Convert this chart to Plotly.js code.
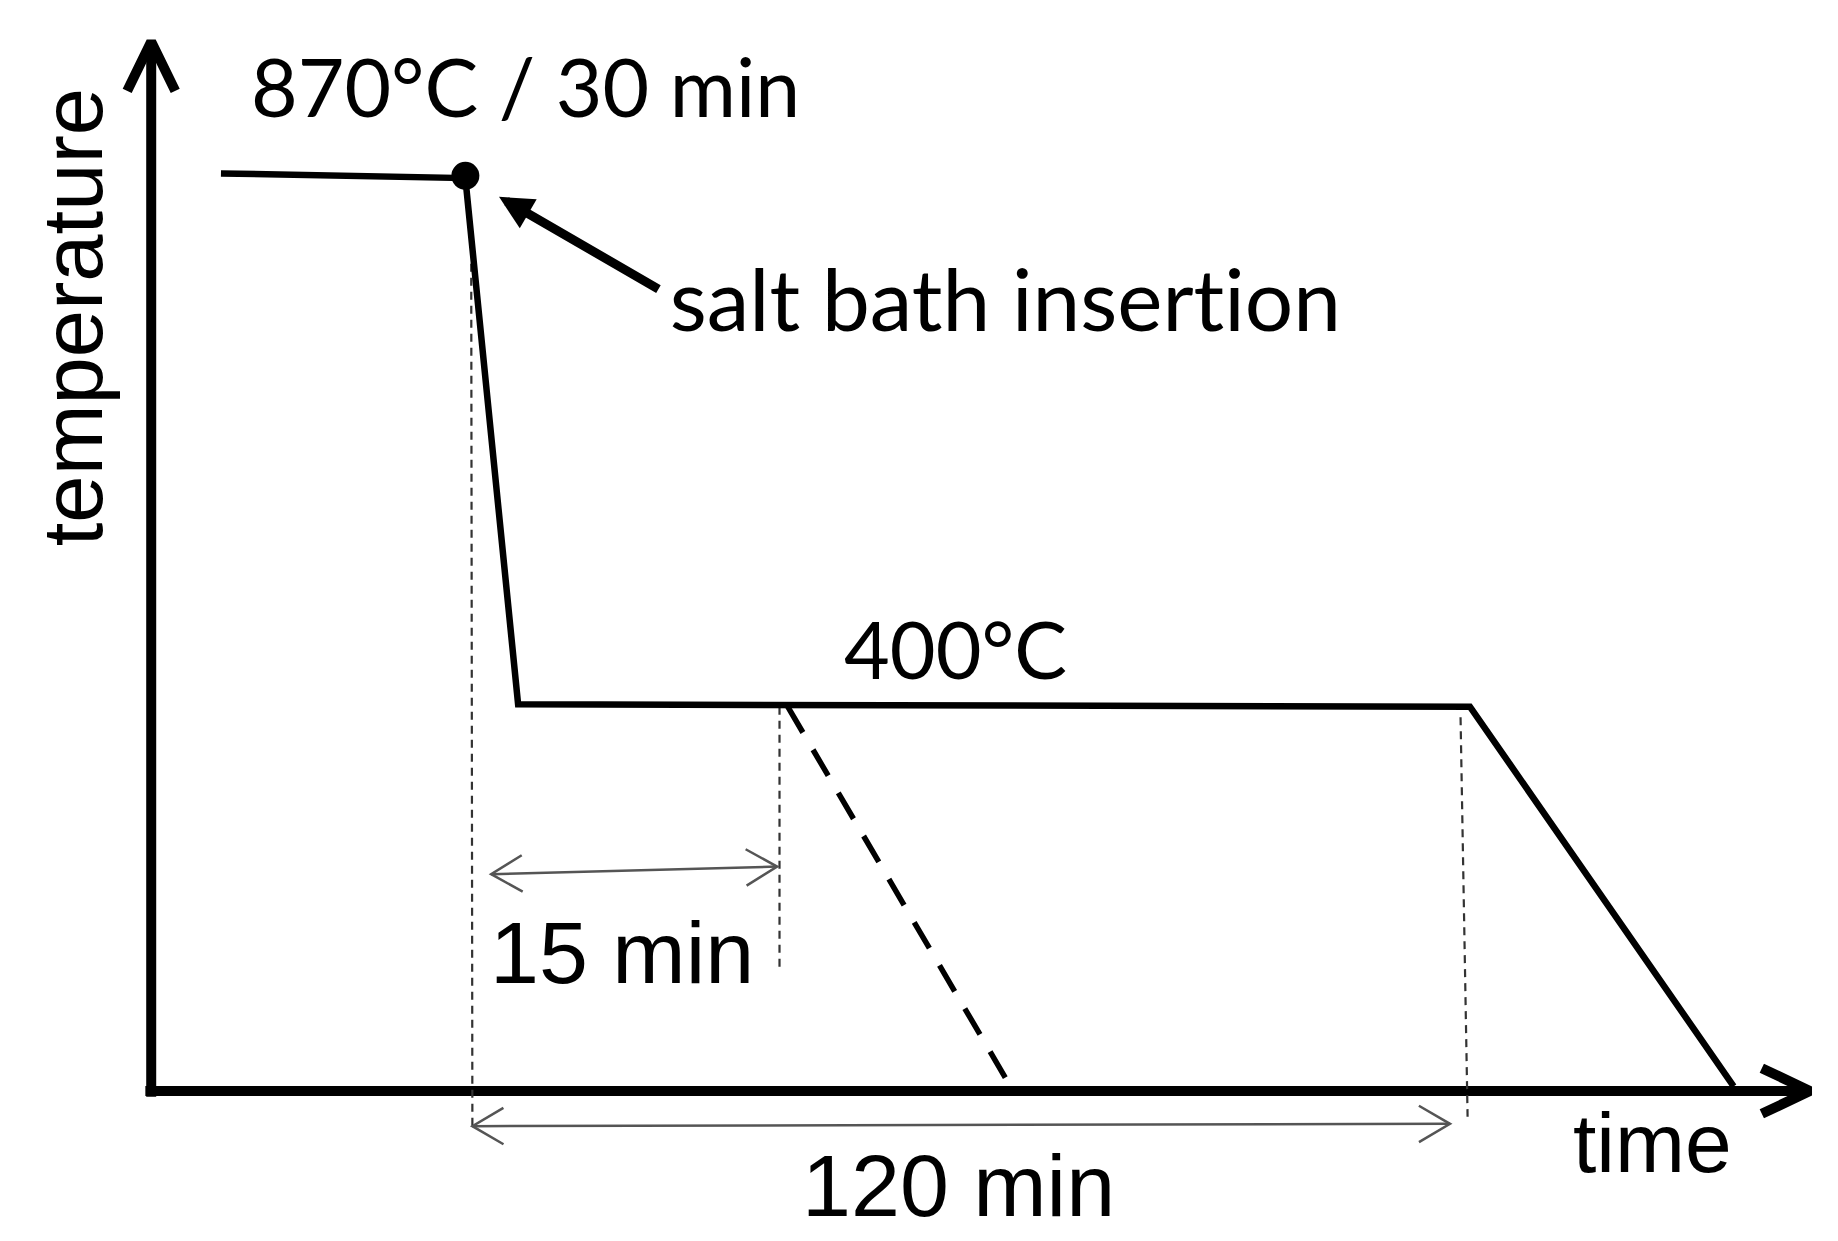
<!DOCTYPE html>
<html>
<head>
<meta charset="utf-8">
<script src="https://cdn.plot.ly/plotly-3.0.1.min.js"></script>
<style>
  html, body { margin: 0; padding: 0; background: #fff; }
  #chart { width: 1838px; height: 1241px; }
  #chart text { font-variant-ligatures: none; font-feature-settings: "liga" 0, "clig" 0; }
</style>
</head>
<body>
<div id="chart"></div>
<script>
// schematic units: time to the right of the temperature axis, temperature above the time axis
const profileTime = [59.5, 268, 313, 1125, 1350];
const profileTemp = [783, 779, 330, 328, 4];
const insertionTime = [268];
const insertionTemp = [781];
const shortHoldTime = [543, 733];
const shortHoldTemp = [328, 4];

// dotted guide lines
const guideTime = [[273, 274], [536, 536], [1117, 1123]];
const guideTemp = [[706, -33], [328, 106], [319, -22]];

// duration spans (start, end) and their labels
const spanLabels = ['15 min', '120 min'];
const spanStart = [[290, 185], [274, -30]];
const spanEnd = [[534, 191.5], [1108, -28]];
const spanLabelPos = [[402, 118], [689, -81]];

// axis ends
const timeAxisEnd = 1415;
const tempAxisEnd = 895.5;

const black = '#000';
const grey = '#555';

function chevron(tip, dir, len, half) {
  const n = Math.hypot(dir[0], dir[1]);
  const dx = dir[0] / n, dy = dir[1] / n;
  const px = -dy, py = dx;
  return {
    x: [tip[0] - dx * len + px * half, tip[0], tip[0] - dx * len - px * half],
    y: [tip[1] - dy * len + py * half, tip[1], tip[1] - dy * len - py * half]
  };
}

function lineTrace(x, y, color, width, dash) {
  return {
    x: x, y: y, type: 'scatter', mode: 'lines', hoverinfo: 'skip',
    line: { color: color, width: width, dash: dash || 'solid' }
  };
}

const traces = [];

// axes with arrow heads
traces.push(lineTrace([0, 0], [-5, tempAxisEnd - 2], black, 10));
traces.push(lineTrace([-5, timeAxisEnd - 2], [0, 0], black, 10));
let h = chevron([0, tempAxisEnd], [0, 1], 42, 20.5);
traces.push(lineTrace(h.x, h.y, black, 10));
h = chevron([timeAxisEnd, 0], [1, 0], 41, 19.5);
traces.push(lineTrace(h.x, h.y, black, 10));

// dotted guides
guideTime.forEach((gx, i) => {
  traces.push(lineTrace(gx, guideTemp[i], '#333', 2.2, '8px,6px'));
});

// span arrows
spanStart.forEach((s, i) => {
  const e = spanEnd[i];
  traces.push(lineTrace([s[0], e[0]], [s[1], e[1]], grey, 2.5));
  let a = chevron(e, [e[0] - s[0], e[1] - s[1]], 26.5, 15.5);
  traces.push(lineTrace(a.x, a.y, grey, 2.5));
  a = chevron(s, [s[0] - e[0], s[1] - e[1]], 26.5, 15.5);
  traces.push(lineTrace(a.x, a.y, grey, 2.5));
});

// temperature profile
traces.push(lineTrace(profileTime, profileTemp, black, 6.5));
traces.push(lineTrace(shortHoldTime, shortHoldTemp, black, 5.5, '30px,20px'));
traces.push({
  x: insertionTime, y: insertionTemp, type: 'scatter', mode: 'markers', hoverinfo: 'skip',
  marker: { color: black, size: 28 }
});

const calibriLike = { family: 'Lato, "Open Sans", sans-serif', size: 82, color: black };
const helvLike = { family: '"Liberation Sans", Arial, sans-serif', size: 88, color: black };
const withSize = (f, s) => Object.assign({}, f, { size: s });

const annotations = [
  { x: 83, y: 858, text: '870°C / 30 min', xanchor: 'left', yanchor: 'middle', font: withSize(calibriLike, 80.5) },
  { x: 440, y: 677, text: 'salt bath insertion', xanchor: 'left', yanchor: 'middle', font: withSize(calibriLike, 85.5) },
  { x: 686, y: 378, text: '400°C', xanchor: 'center', yanchor: 'middle', font: withSize(calibriLike, 79) },
  { x: 1281, y: -44, text: 'time', xanchor: 'center', yanchor: 'middle', font: withSize(helvLike, 84) },
  { x: -67, y: 660, text: 'temperature', textangle: -90, xanchor: 'center', yanchor: 'middle',
    font: withSize(helvLike, 85) },
  // arrow pointing at the insertion point
  { x: 296.7, y: 763, ax: 434, ay: 683.6, axref: 'x', ayref: 'y', text: '',
    showarrow: true, arrowhead: 2, arrowwidth: 9, arrowsize: 0.75, arrowcolor: black, standoff: 0 }
];
spanLabels.forEach((t, i) => {
  annotations.push({ x: spanLabelPos[i][0], y: spanLabelPos[i][1], text: t,
    xanchor: 'center', yanchor: 'middle', font: helvLike });
});
annotations.forEach(a => { if (a.showarrow === undefined) a.showarrow = false; });

const layout = {
  width: 1838, height: 1241,
  margin: { l: 0, r: 0, t: 0, b: 0 },
  paper_bgcolor: '#fff', plot_bgcolor: '#fff',
  showlegend: false,
  xaxis: { range: [-129, 1439], visible: false, fixedrange: true },
  yaxis: { range: [-128, 931], visible: false, fixedrange: true },
  annotations: annotations
};

Plotly.newPlot('chart', traces, layout, { displayModeBar: false, staticPlot: true });
</script>
</body>
</html>
